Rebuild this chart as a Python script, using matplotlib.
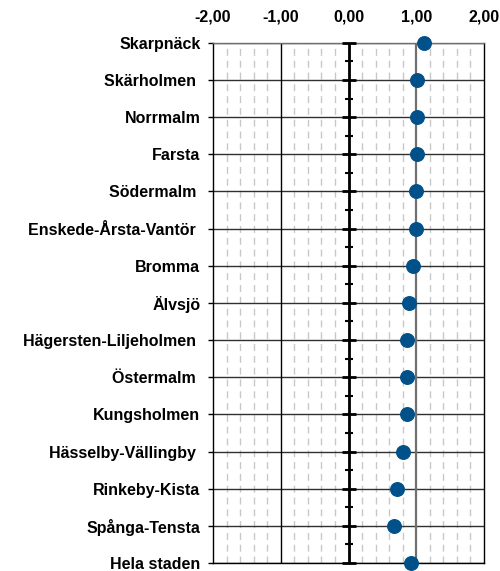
import matplotlib.pyplot as plt
import numpy as np

plt.rcParams['font.family'] = ['Liberation Sans', 'DejaVu Sans']

districts = ['Skarpnäck', 'Skärholmen ', 'Norrmalm', 'Farsta', 'Södermalm ',
             'Enskede-Årsta-Vantör ', 'Bromma', 'Älvsjö', 'Hägersten-Liljeholmen ',
             'Östermalm ', 'Kungsholmen', 'Hässelby-Vällingby ', 'Rinkeby-Kista',
             'Spånga-Tensta', 'Hela staden']
values = [1.11, 1.01, 1.01, 1.01, 0.99, 0.99, 0.95, 0.90, 0.87, 0.87,
          0.87, 0.80, 0.72, 0.67, 0.92]
xticks = [-2, -1, 0, 1, 2]
xticklabels = ['-2,00', '-1,00', '0,00', '1,00', '2,00']

fig = plt.figure(figsize=(5, 5.71), dpi=100)
ax = fig.add_axes([0.426, 0.014, 0.542, 0.911])

y = np.arange(len(districts))

# dashed minor verticals
for xv in np.arange(-2, 2.01, 0.2):
    if abs(xv - round(xv)) > 1e-6:
        ax.axvline(xv, color='#c8c8c8', lw=1, ls=(0, (5, 3.5)), zorder=1)
# row lines
for yv in y:
    ax.axhline(yv, color='#303030', lw=1, zorder=2)
ax.axvline(-1, color='black', lw=1, zorder=2)
ax.axvline(1, color='#707070', lw=1.6, zorder=2)
ax.axvline(0, color='black', lw=2, zorder=3)

ax.scatter(values, y, s=95, color='#00518a', zorder=5, clip_on=False)

ax.set_xlim(-2, 2)
ax.set_ylim(len(districts) - 1, 0)
ax.set_yticks(y)
ax.set_yticklabels(districts, fontsize=11.5, fontweight='bold')
ax.tick_params(axis='y', direction='out', length=3.5, width=1, pad=5.5)
ax.xaxis.tick_top()
ax.set_xticks(xticks)
ax.set_xticklabels(xticklabels, fontsize=11.5, fontweight='bold')
ax.tick_params(axis='x', length=0, pad=13)
for s in ['left', 'right', 'bottom']:
    ax.spines[s].set_color('black')
    ax.spines[s].set_linewidth(1)
ax.spines['top'].set_color('#707070')
ax.spines['top'].set_linewidth(1)

# zero axis tick marks
sec = ax.secondary_yaxis(0.5)
sec.spines['left'].set_linewidth(2)
sec.set_yticks(y)
sec.set_yticks(y[:-1] + 0.5, minor=True)
sec.set_yticklabels([])
sec.tick_params(which='major', direction='inout', length=10, width=2)
sec.tick_params(which='minor', direction='inout', length=6, width=1.5)
sec.set_zorder(3)

fig.savefig('out.png', dpi=100)
